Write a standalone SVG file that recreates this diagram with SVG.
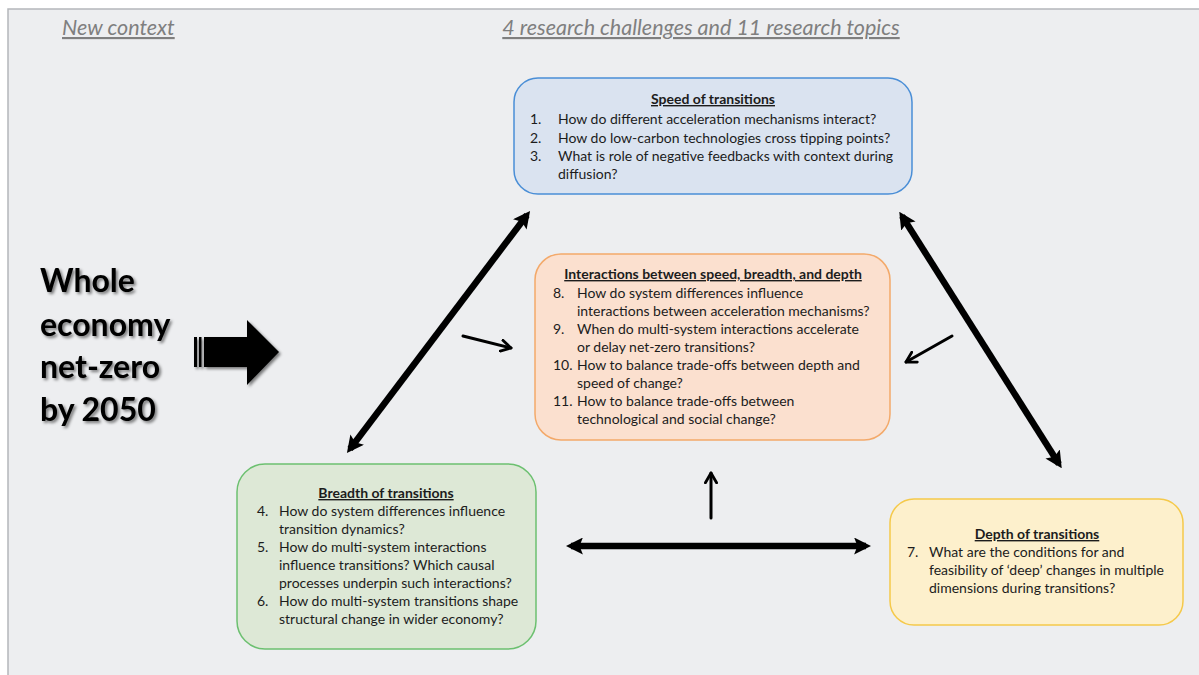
<svg xmlns="http://www.w3.org/2000/svg" width="1199" height="675" viewBox="0 0 1199 675">
<style>
.t{font-family:Lato,"Open Sans","Liberation Sans",sans-serif;font-size:14px;fill:#1c1c1c}
.h{font-weight:bold;text-decoration:underline;text-anchor:middle}
.hdr{font-family:Lato,"Open Sans","Liberation Sans",sans-serif;font-size:21.5px;font-style:italic;fill:#7f7f7f;text-decoration:underline}
.big{font-family:Lato,"Open Sans","Liberation Sans",sans-serif;font-size:32px;font-weight:bold;fill:#000}
.thick{stroke:#000;stroke-width:6.5;fill:none}
.thin{stroke:#000;stroke-width:3;fill:none;stroke-linecap:round}
</style>
<defs>
<marker id="fh" viewBox="0 0 10 10" refX="7" refY="5" markerWidth="17" markerHeight="17" markerUnits="userSpaceOnUse" orient="auto-start-reverse">
<path d="M0,0 L10,5 L0,10 L2,5 Z" fill="#000"/>
</marker>
<marker id="oh" viewBox="0 0 10 10" refX="8" refY="5" markerWidth="14" markerHeight="14" markerUnits="userSpaceOnUse" orient="auto">
<path d="M1,1 L8,5 L1,9" fill="none" stroke="#000" stroke-width="2" stroke-linecap="round" stroke-linejoin="round"/>
</marker>
<filter id="sh" x="-10%" y="-10%" width="130%" height="130%">
<feGaussianBlur in="SourceAlpha" stdDeviation="1.5"/>
<feOffset dx="1.5" dy="2" result="b"/>
<feComponentTransfer><feFuncA type="linear" slope="0.5"/></feComponentTransfer>
<feMerge><feMergeNode/><feMergeNode in="SourceGraphic"/></feMerge>
</filter>
</defs>
<rect x="0" y="0" width="1199" height="675" fill="#ffffff"/>
<rect x="8" y="9" width="1200" height="680" fill="#edeef0" stroke="#b4b7bb" stroke-width="1.5"/>

<g id="headers">
<text class="hdr" x="62" y="35">New context</text>
<text class="hdr" x="701" y="35" text-anchor="middle">4 research challenges and 11 research topics</text>
</g>

<g id="goal" filter="url(#sh)">
<text class="big" x="40" y="292">Whole</text>
<text class="big" x="40" y="336">economy</text>
<text class="big" x="40" y="378">net-zero</text>
<text class="big" x="40" y="421">by 2050</text>
</g>

<g id="big-arrow" filter="url(#sh)">
<rect x="194" y="337" width="3" height="30" fill="#000"/>
<rect x="199" y="337" width="2.5" height="30" fill="#000"/>
<path d="M204,337 L247,337 L247,320 L279,352 L247,385 L247,367 L204,367 Z" fill="#000"/>
</g>

<g id="speed">
<rect x="514" y="78" width="398" height="116" rx="24" fill="#dae3f0" stroke="#4a8ed6" stroke-width="1.5"/>
<text class="t h" x="713" y="104">Speed of transitions</text>
<text class="t" x="530" y="124">1.</text><text class="t" x="558" y="124">How do different acceleration mechanisms interact?</text>
<text class="t" x="530" y="143">2.</text><text class="t" x="558" y="143">How do low-carbon technologies cross tipping points?</text>
<text class="t" x="530" y="161">3.</text><text class="t" x="558" y="161">What is role of negative feedbacks with context during</text>
<text class="t" x="558" y="179">diffusion?</text>
</g>

<g id="interactions">
<rect x="535" y="254" width="355" height="186" rx="26" fill="#fbe0cf" stroke="#f3a96a" stroke-width="1.5"/>
<text class="t h" x="713" y="279">Interactions between speed, breadth, and depth</text>
<text class="t" x="553" y="298">8.</text><text class="t" x="577" y="298">How do system differences influence</text>
<text class="t" x="577" y="316">interactions between acceleration mechanisms?</text>
<text class="t" x="553" y="334">9.</text><text class="t" x="577" y="334">When do multi-system interactions accelerate</text>
<text class="t" x="577" y="352">or delay net-zero transitions?</text>
<text class="t" x="553" y="370">10.</text><text class="t" x="577" y="370">How to balance trade-offs between depth and</text>
<text class="t" x="577" y="388">speed of change?</text>
<text class="t" x="553" y="406">11.</text><text class="t" x="577" y="406">How to balance trade-offs between</text>
<text class="t" x="577" y="424">technological and social change?</text>
</g>

<g id="breadth">
<rect x="237" y="464" width="299" height="185" rx="28" fill="#dde8d6" stroke="#6cc070" stroke-width="1.5"/>
<text class="t h" x="386" y="498">Breadth of transitions</text>
<text class="t" x="257" y="516">4.</text><text class="t" x="279" y="516">How do system differences influence</text>
<text class="t" x="279" y="534">transition dynamics?</text>
<text class="t" x="257" y="552">5.</text><text class="t" x="279" y="552">How do multi-system interactions</text>
<text class="t" x="279" y="570">influence transitions? Which causal</text>
<text class="t" x="279" y="588">processes underpin such interactions?</text>
<text class="t" x="257" y="606">6.</text><text class="t" x="279" y="606">How do multi-system transitions shape</text>
<text class="t" x="279" y="624">structural change in wider economy?</text>
</g>

<g id="depth">
<rect x="890" y="499" width="293" height="126" rx="24" fill="#fdf0cc" stroke="#f5c94a" stroke-width="1.5"/>
<text class="t h" x="1037" y="539">Depth of transitions</text>
<text class="t" x="907" y="557">7.</text><text class="t" x="929" y="557">What are the conditions for and</text>
<text class="t" x="929" y="575">feasibility of ‘deep’ changes in multiple</text>
<text class="t" x="929" y="593">dimensions during transitions?</text>
</g>

<g id="connectors">
<line class="thick" x1="350" y1="449" x2="527" y2="215" marker-start="url(#fh)" marker-end="url(#fh)"/>
<line class="thick" x1="902" y1="216" x2="1059" y2="464" marker-start="url(#fh)" marker-end="url(#fh)"/>
<line class="thick" x1="571" y1="546" x2="866" y2="546" marker-start="url(#fh)" marker-end="url(#fh)"/>
<line class="thin" x1="711" y1="518" x2="711" y2="473" marker-end="url(#oh)"/>
<line class="thin" x1="463" y1="336" x2="511" y2="348" marker-end="url(#oh)"/>
<line class="thin" x1="952" y1="336" x2="906" y2="362" marker-end="url(#oh)"/>
</g>
</svg>
